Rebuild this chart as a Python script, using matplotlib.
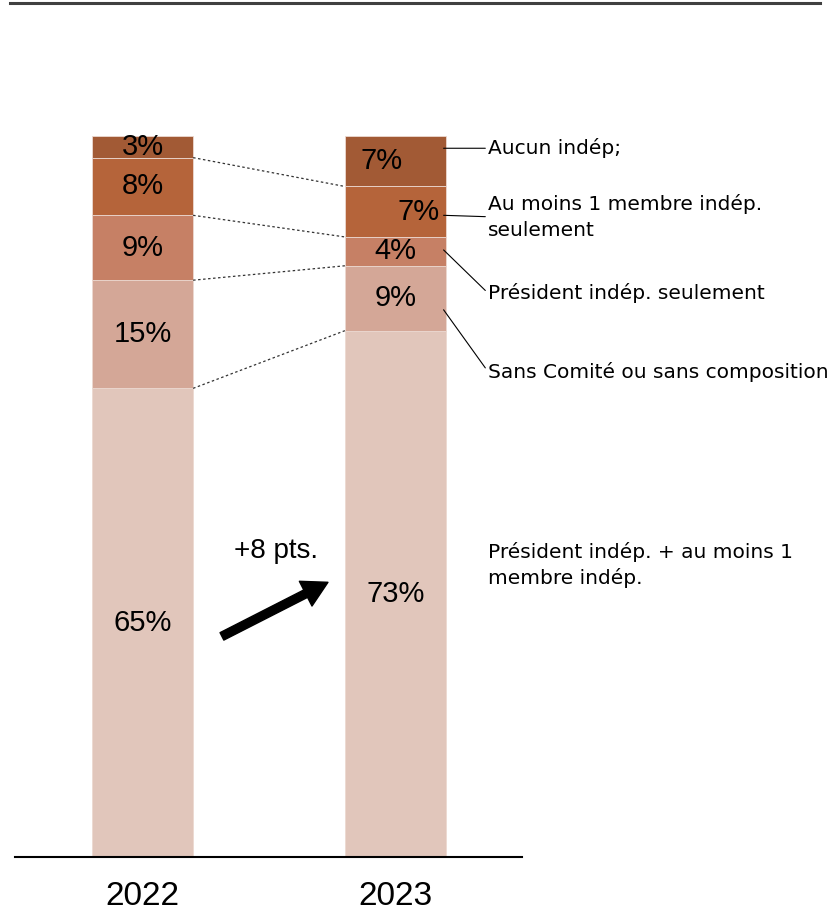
import matplotlib.pyplot as plt
from matplotlib.lines import Line2D

years = ['2022', '2023']
categories = ['Président indép. + au moins 1\nmembre indép.',
              'Sans Comité ou sans composition',
              'Président indép. seulement',
              'Au moins 1 membre indép.\nseulement',
              'Aucun indép;']
values_2022 = [65, 15, 9, 8, 3]
values_2023 = [73, 9, 4, 7, 7]
colors = ['#e1c6bb', '#d4a797', '#c68065', '#b5643a', '#a25a35']

W, H = 833, 911
fig = plt.figure(figsize=(W / 100, H / 100), dpi=100)
ax = fig.add_axes([15 / W, (H - 857) / H, (522 - 15) / W, (857 - 136) / H])

x = [0, 1]
bw = 0.4
series = [values_2022, values_2023]
bottoms = [0, 0]
for i, col in enumerate(colors):
    vals = [s[i] for s in series]
    ax.bar(x, vals, bw, bottom=bottoms, color=col, edgecolor='#ecd9d1', linewidth=0.6)
    bottoms = [b + v for b, v in zip(bottoms, vals)]

# percentage labels
lab_font = dict(fontsize=21, family='Liberation Sans', color='black', va='center')
cum = 0
for v in values_2022:
    ax.text(0, cum + v / 2, f'{v}%', ha='center', **lab_font)
    cum += v
cum = 0
x_off_2023 = [0, 0, 0, 0.09, -0.055]
for v, dx in zip(values_2023, x_off_2023):
    ax.text(1 + dx, cum + v / 2, f'{v}%', ha='center', **lab_font)
    cum += v

# dotted connectors between stack boundaries
c22 = [sum(values_2022[:k + 1]) for k in range(4)]
c23 = [sum(values_2023[:k + 1]) for k in range(4)]
for a, b in zip(c22, c23):
    ax.plot([bw / 2, 1 - bw / 2], [a, b], ls=(0, (2, 2)), color='#333333', lw=0.9)

# category labels with leaders
tx = 1.366
lead = dict(arrowstyle='-', color='black', lw=0.8, shrinkA=0, shrinkB=0, relpos=(0, 0.5))
ax.annotate(categories[4], xy=(1.19, 98.3), xytext=(tx, 98.3), va='center', fontsize=14.5,
            arrowprops=lead)
ax.annotate(categories[3], xy=(1.19, 89.0), xytext=(tx, 88.8), va='center', fontsize=14.5,
            arrowprops=lead, linespacing=1.45)
ax.annotate(categories[2], xy=(1.19, 84.2), xytext=(tx, 78.2), va='center', fontsize=14.5,
            arrowprops=lead)
ax.annotate(categories[1], xy=(1.19, 75.9), xytext=(tx, 67.3), va='center', fontsize=14.5,
            arrowprops=lead)
ax.text(tx, 40.5, categories[0], va='center', fontsize=14.5, linespacing=1.4)

# evolution arrow
ax.annotate('', xy=(0.733, 38.1), xytext=(0.314, 30.6),
            arrowprops=dict(width=6, headwidth=20, headlength=18, color='black', shrink=0))
ax.text(0.528, 42.5, '+8 pts.', ha='center', va='center', fontsize=20, family='Liberation Sans')

ax.set_xlim(-0.504, 1.5)
ax.set_ylim(0, 100)
for s in ['top', 'right', 'left']:
    ax.spines[s].set_visible(False)
ax.spines['bottom'].set_linewidth(1.5)
ax.set_yticks([])
ax.set_xticks(x)
ax.set_xticklabels(years, fontsize=24, family='Liberation Sans')
ax.tick_params(axis='x', length=0, pad=17)
for t in ax.texts:
    t.set_clip_on(False)

fig.add_artist(Line2D([10 / W, 820 / W], [1 - 3 / H, 1 - 3 / H], color='#404040', lw=2.2))

fig.savefig('out.png', dpi=100)
